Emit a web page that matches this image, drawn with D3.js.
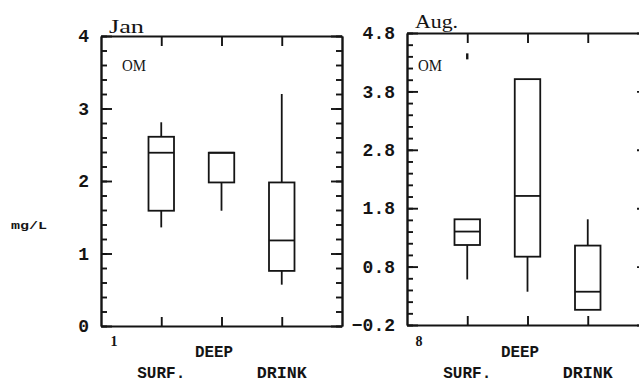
<!DOCTYPE html>
<html>
<head>
<meta charset="utf-8">
<script src="https://cdn.jsdelivr.net/npm/d3@7"></script>
<style>
  html, body { margin: 0; padding: 0; background: #fff; }
  svg { display: block; }
  .axis path, .axis line { stroke: #141414; stroke-width: 1.9; }
  .axis text { font-family: "Liberation Mono", monospace; font-weight: bold; font-size: 18px; fill: #141414; }
  .box { fill: none; stroke: #141414; stroke-width: 1.8; }
</style>
</head>
<body>
<svg id="chart" width="639" height="385"></svg>
<script>
// Sampling sites along the x axis
const categories = ["SURF.", "DEEP", "DRINK"];

// January organic matter (mg/L): box-plot summaries per site
const janLow    = [1.36, 1.59, 0.57];
const janQ1     = [1.59, 1.98, 0.76];
const janMedian = [2.39, 2.39, 1.18];
const janQ3     = [2.61, 2.39, 1.98];
const janHigh   = [2.81, 2.39, 3.20];
const janOutliers = [[], [], []];

// August organic matter (mg/L)
const augLow    = [0.58, 0.37, 0.06];
const augQ1     = [1.17, 0.97, 0.06];
const augMedian = [1.40, 2.01, 0.37];
const augQ3     = [1.61, 4.01, 1.16];
const augHigh   = [1.61, 4.01, 1.61];
const augOutliers = [[4.40], [], []];

// Axis tick labels
const janTicks = [0, 1, 2, 3, 4];
const augTicks = [-0.2, 0.8, 1.8, 2.8, 3.8, 4.8];

const svg = d3.select("#chart");

function panel(opt) {
  const g = svg.append("g");
  const x = d3.scaleLinear().domain([0, 4]).range([opt.left, opt.right]);
  const y = d3.scaleLinear().domain(opt.yDomain).range([opt.bottom, opt.top]);

  // minor ticks every 0.2 on both vertical borders
  const n = Math.round((opt.yDomain[1] - opt.yDomain[0]) / 0.2);
  const minor = d3.range(n + 1).map(i => opt.yDomain[0] + i * 0.2);

  g.append("g").attr("class", "axis")
    .attr("transform", `translate(${opt.left},0)`)
    .call(d3.axisLeft(y).tickValues(minor).tickSizeInner(-6).tickSizeOuter(0).tickFormat(""));
  g.append("g").attr("class", "axis")
    .attr("transform", `translate(${opt.left},0)`)
    .call(d3.axisLeft(y).tickValues(opt.ticks).tickSizeInner(-11).tickSizeOuter(0)
      .tickPadding(12).tickFormat(opt.fmt));

  g.append("g").attr("class", "axis")
    .attr("transform", `translate(${opt.right},0)`)
    .call(d3.axisRight(y).tickValues(minor).tickSizeInner(-6).tickSizeOuter(0).tickFormat(""));
  g.append("g").attr("class", "axis")
    .attr("transform", `translate(${opt.right},0)`)
    .call(d3.axisRight(y).tickValues(opt.ticks).tickSizeInner(-11).tickSizeOuter(0).tickFormat(""));

  // category ticks on top and bottom borders
  g.append("g").attr("class", "axis")
    .attr("transform", `translate(0,${opt.bottom})`)
    .call(d3.axisBottom(x).tickValues([1, 2, 3]).tickSizeInner(-9).tickSizeOuter(0).tickFormat(""));
  g.append("g").attr("class", "axis")
    .attr("transform", `translate(0,${opt.top})`)
    .call(d3.axisTop(x).tickValues([1, 2, 3]).tickSizeInner(-10).tickSizeOuter(0).tickFormat(""));

  // boxes
  const hw = 12.75;
  const labelW = { "SURF.": 48, "DEEP": 38, "DRINK": 50 };
  categories.forEach((c, i) => {
    const cx = x(i + 1);
    const bg = g.append("g").attr("class", "box");
    if (opt.high[i] > opt.q3[i])
      bg.append("line").attr("x1", cx).attr("x2", cx).attr("y1", y(opt.q3[i])).attr("y2", y(opt.high[i]));
    if (opt.low[i] < opt.q1[i])
      bg.append("line").attr("x1", cx).attr("x2", cx).attr("y1", y(opt.q1[i])).attr("y2", y(opt.low[i]));
    bg.append("rect").attr("x", cx - hw).attr("width", hw * 2)
      .attr("y", y(opt.q3[i])).attr("height", y(opt.q1[i]) - y(opt.q3[i]));
    bg.append("line").attr("x1", cx - hw).attr("x2", cx + hw)
      .attr("y1", y(opt.median[i])).attr("y2", y(opt.median[i]));
    opt.outliers[i].forEach(v => {
      bg.append("line").attr("x1", cx).attr("x2", cx)
        .attr("y1", y(v) - 3).attr("y2", y(v) + 3).attr("stroke-width", 2.4);
    });

    const w = labelW[c];
    g.append("text")
      .attr("x", cx + (c === "DEEP" ? -7.5 : 0) - w / 2)
      .attr("y", c === "DEEP" ? 357 : 378)
      .attr("font-family", "Liberation Mono, monospace")
      .attr("font-weight", "bold")
      .attr("font-size", 17)
      .attr("textLength", w).attr("lengthAdjust", "spacingAndGlyphs")
      .attr("fill", "#141414")
      .text(c);
  });

  // month title
  g.append("text")
    .attr("x", opt.titleX).attr("y", opt.titleY)
    .attr("font-family", "Liberation Serif, serif")
    .attr("font-size", 19)
    .attr("textLength", opt.titleW).attr("lengthAdjust", "spacingAndGlyphs")
    .attr("fill", "#141414")
    .text(opt.title);

  // variable label inside the frame
  g.append("text")
    .attr("x", opt.omX).attr("y", 71)
    .attr("font-family", "Liberation Serif, serif")
    .attr("font-size", 17)
    .attr("textLength", 24).attr("lengthAdjust", "spacingAndGlyphs")
    .attr("fill", "#141414")
    .text("OM");

  // panel number under the frame corner
  g.append("text")
    .attr("x", opt.numX).attr("y", 346)
    .attr("text-anchor", "middle")
    .attr("font-family", "Liberation Serif, serif")
    .attr("font-weight", "bold")
    .attr("font-size", 14)
    .attr("fill", "#141414")
    .text(opt.num);
}

panel({
  left: 101, right: 342, top: 36, bottom: 326,
  yDomain: [0, 4], ticks: janTicks, fmt: d3.format("d"),
  low: janLow, q1: janQ1, median: janMedian, q3: janQ3, high: janHigh, outliers: janOutliers,
  title: "Jan", titleX: 109, titleY: 33, titleW: 35, omX: 122, numX: 114, num: "1"
});

panel({
  left: 407, right: 648, top: 33, bottom: 325,
  yDomain: [-0.2, 4.8], ticks: augTicks, fmt: d3.format(".1f"),
  low: augLow, q1: augQ1, median: augMedian, q3: augQ3, high: augHigh, outliers: augOutliers,
  title: "Aug.", titleX: 415, titleY: 28, titleW: 43, omX: 418, numX: 419, num: "8"
});

// shared unit label
svg.append("text")
  .attr("x", 11).attr("y", 229)
  .attr("font-family", "Liberation Mono, monospace")
  .attr("font-weight", "bold")
  .attr("font-size", 11)
  .attr("textLength", 36).attr("lengthAdjust", "spacingAndGlyphs")
  .attr("fill", "#141414")
  .text("mg/L");
</script>
</body>
</html>
